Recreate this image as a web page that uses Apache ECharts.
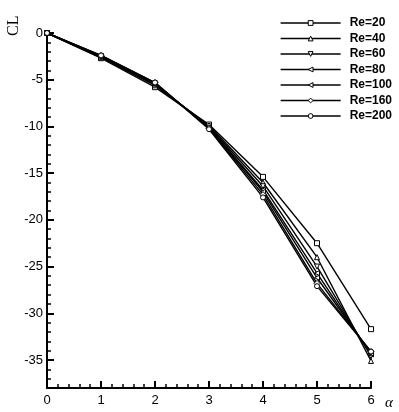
<!DOCTYPE html>
<html><head><meta charset="utf-8">
<script src="https://cdn.jsdelivr.net/npm/echarts@6/dist/echarts.min.js"></script>
<style>html,body{margin:0;padding:0;background:#fff}#main{width:399px;height:412px}</style>
</head><body><div id="main"></div>
<script>
// angle of attack
var alpha = [0, 1, 2, 3, 4, 5, 6];
var names = ['Re=20', 'Re=40', 'Re=60', 'Re=80', 'Re=100', 'Re=160', 'Re=200'];
var re20  = [0, -2.7, -5.8, -9.8, -15.4, -22.5, -31.7];
var re40  = [0, -2.6, -5.6, -9.9, -16.0, -24.0, -35.1];
var re60  = [0, -2.6, -5.5, -10.0, -16.4, -25.0, -34.6];
var re80  = [0, -2.5, -5.5, -10.1, -16.8, -25.7, -34.4];
var re100 = [0, -2.5, -5.4, -10.1, -17.0, -26.2, -34.3];
var re160 = [0, -2.4, -5.3, -10.2, -17.3, -26.8, -34.1];
var re200 = [0, -2.4, -5.3, -10.3, -17.6, -27.1, -34.1];
var yLabels = [0, -5, -10, -15, -20, -25, -30, -35];
var yMinor = [];
for (var v = 0; v >= -38; v--) yMinor.push(v);

var values = [re20, re40, re60, re80, re100, re160, re200];
var symbols = ['rect', 'triangle', 'triangle', 'triangle', 'triangle', 'diamond', 'circle'];
var rotates = [0, 0, 180, 90, 90, 0, 0];

var series = names.map(function (n, i) {
  return {
    name: n,
    type: 'line',
    data: alpha.map(function (a, j) { return [a, values[i][j]]; }),
    symbol: symbols[i],
    symbolRotate: rotates[i],
    symbolSize: i === 5 ? 6 : 5,
    showAllSymbol: true,
    lineStyle: { color: '#000', width: 1.4 },
    itemStyle: { color: '#fff', borderColor: '#000', borderWidth: 1 },
    emphasis: { disabled: true }
  };
});

var chart = echarts.init(document.getElementById('main'));
chart.setOption({
  animation: false,
  grid: { left: 47, right: 28, top: 33, bottom: 24, containLabel: false },
  legend: {
    orient: 'vertical',
    right: 2, top: 11,
    itemWidth: 60, itemHeight: 6, itemGap: 1.5,
    itemStyle: { color: '#fff', borderColor: '#000', borderWidth: 1 },
    lineStyle: { color: '#000', width: 1.4 },
    textStyle: { fontFamily: 'Liberation Sans', fontWeight: 'bold', fontSize: 12, color: '#000', lineHeight: 14, padding: [0, 0, 0, 4] },
    data: names
  },
  xAxis: {
    type: 'value', min: 0, max: 6, interval: 1,
    axisLine: { onZero: false, lineStyle: { color: '#000', width: 2 } },
    axisTick: { inside: true, length: 7, lineStyle: { color: '#000', width: 2 } },
    minorTick: { show: true, splitNumber: 5, length: 4, lineStyle: { color: '#000', width: 1.5 } },
    splitLine: { show: false },
    axisLabel: { color: '#000', fontFamily: 'Liberation Sans', fontSize: 13, margin: 6 }
  },
  yAxis: [{
    type: 'value', min: -38, max: 0,
    axisLine: { onZero: false, lineStyle: { color: '#000', width: 2 } },
    axisTick: { inside: true, length: 7, customValues: yLabels, lineStyle: { color: '#000', width: 2 } },
    splitLine: { show: false },
    axisLabel: { customValues: yLabels, color: '#000', fontFamily: 'Liberation Sans', fontSize: 13, margin: 4 }
  }, {
    type: 'value', min: -38, max: 0, position: 'left',
    axisLine: { show: false },
    axisTick: { inside: true, length: 4, customValues: yMinor, lineStyle: { color: '#000', width: 1.5 } },
    splitLine: { show: false },
    axisLabel: { show: false }
  }],
  graphic: [{
    type: 'text', x: 6, y: 36, rotation: Math.PI / 2,
    style: { text: 'CL', font: '16px "Liberation Serif"', fill: '#000' }
  }, {
    type: 'text', x: 385, y: 396,
    style: { text: 'α', font: 'italic 15px "Liberation Serif"', fill: '#000' }
  }],
  series: series
});
</script>
</body></html>
